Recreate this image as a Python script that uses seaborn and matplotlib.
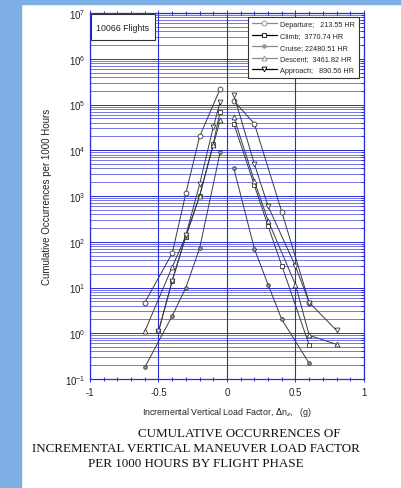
import numpy as np
import pandas as pd
import seaborn as sns
import matplotlib
matplotlib.use('Agg')
import matplotlib.pyplot as plt
from matplotlib.patches import Rectangle
from matplotlib.lines import Line2D
from matplotlib.ticker import LogLocator, MultipleLocator, FixedLocator

# values (load factor in g, occurrences per 1000 hr)
dep_lx = [-0.6, -0.4, -0.3, -0.2, -0.05]
dep_ly = [4.7, 56, 1150, 2.0e4, 2.2e5]
dep_rx = [0.05, 0.2, 0.4, 0.6]
dep_ry = [1.2e5, 3.8e4, 450, 4.7]

climb_lx = [-0.5, -0.4, -0.3, -0.2, -0.1, -0.05]
climb_ly = [1.1, 14, 130, 1000, 1.4e4, 7.0e4]
climb_rx = [0.05, 0.2, 0.3, 0.4, 0.6]
climb_ry = [3.8e4, 1.7e3, 220, 30, 0.55]

cruise_lx = [-0.6, -0.4, -0.3, -0.2, -0.05]
cruise_ly = [0.18, 2.4, 10, 72, 9.0e3]
cruise_rx = [0.05, 0.2, 0.3, 0.4, 0.6]
cruise_ry = [4.0e3, 70, 11.5, 2.0, 0.22]

desc_lx = [-0.6, -0.4, -0.3, -0.2, -0.1, -0.05]
desc_ly = [1.1, 28, 135, 1000, 1.3e4, 4.5e4]
desc_rx = [0.05, 0.2, 0.3, 0.5, 0.6, 0.8]
desc_ry = [5.3e4, 2.1e3, 290, 11.5, 0.9, 0.57]

appr_lx = [-0.5, -0.4, -0.3, -0.2, -0.1, -0.05]
appr_ly = [1.1, 14, 140, 1.8e3, 3.2e4, 1.15e5]
appr_rx = [0.05, 0.2, 0.3, 0.5, 0.6, 0.8]
appr_ry = [1.6e5, 5.0e3, 600, 29, 4.7, 1.15]

phases = ['Departure;   213.55 HR', 'Climb;  3770.74 HR', 'Cruise; 22480.51 HR',
          'Descent;  3461.82 HR', 'Approach;   890.56 HR']
markers = ['o', 's', 'o', '^', 'v']
legend_colors = ['#8a8a8a', '#000000', '#8a8a8a', '#8a8a8a', '#000000']

series = [
    (dep_lx, dep_ly, dep_rx, dep_ry),
    (climb_lx, climb_ly, climb_rx, climb_ry),
    (cruise_lx, cruise_ly, cruise_rx, cruise_ry),
    (desc_lx, desc_ly, desc_rx, desc_ry),
    (appr_lx, appr_ly, appr_rx, appr_ry),
]

rows = []
for name, (lx, ly, rx, ry) in zip(phases, series):
    for x, y in zip(lx, ly):
        rows.append((name, 'neg', x, y))
    for x, y in zip(rx, ry):
        rows.append((name, 'pos', x, y))
df = pd.DataFrame(rows, columns=['phase', 'branch', 'dnz', 'occ'])

sns.set_style('white')
plt.rcParams['font.family'] = ['Liberation Sans', 'DejaVu Sans']

fig = plt.figure(figsize=(4.02, 4.89), dpi=100)
fig.patch.set_facecolor('white')
fig.patches.append(Rectangle((0, 0), 21 / 402, 1, transform=fig.transFigure,
                             color='#7EB0E6', zorder=-1))
fig.patches.append(Rectangle((0, 1 - 5 / 489), 1, 5 / 489, transform=fig.transFigure,
                             color='#7EB0E6', zorder=-1))

ax = fig.add_axes([90 / 402, 1 - 380 / 489, 274 / 402, 366 / 489])
ax.set_yscale('log')

blue = '#2b2bd8'
for name, mk in zip(phases, markers):
    sub = df[df['phase'] == name]
    small = name.startswith('Cruise')
    for br in ['neg', 'pos']:
        part = sub[sub['branch'] == br]
        sns.lineplot(data=part, x='dnz', y='occ', ax=ax, sort=False, estimator=None,
                     color='#3a3a3a', linewidth=0.7, marker=mk,
                     markersize=2.6 if small else 3.5,
                     markerfacecolor='#9a9a9a' if small else 'white',
                     markeredgecolor='#333333', markeredgewidth=0.6,
                     legend=False, zorder=3)

ax.set_xlim(-1, 1)
ax.set_ylim(1e-1, 1e7)

ax.yaxis.set_major_locator(LogLocator(base=10, numticks=12))
ax.yaxis.set_minor_locator(LogLocator(base=10, subs=np.arange(2, 10), numticks=12))
ax.xaxis.set_major_locator(FixedLocator([-1, -0.5, 0, 0.5, 1]))
ax.xaxis.set_minor_locator(MultipleLocator(0.1))
ax.set_xticklabels(['-1', '-0.5', '0', '0.5', '1'])

ax.grid(True, which='major', axis='y', color=blue, linewidth=0.7)
ax.grid(True, which='minor', axis='y', color=blue, linewidth=0.45)
ax.grid(True, which='major', axis='x', color=blue, linewidth=0.8)

ax.tick_params(axis='both', which='both', labelsize=7, colors=blue, labelcolor='#222222',
               top=True, right=True, direction='in', length=4, width=0.7)
ax.tick_params(axis='both', which='minor', length=2.5)
ax.tick_params(axis='x', which='both', bottom=True, direction='inout')
for sp in ax.spines.values():
    sp.set_color(blue)
    sp.set_linewidth(0.9)

ax.set_xlabel('Incremental Vertical Load Factor, $\\Delta$n$_z$,   (g)', fontsize=6.4,
              color='#222222', labelpad=6)
ax.set_ylabel('Cumulative Occurrences per 1000 Hours', fontsize=7, color='#222222',
              labelpad=9)

# flights box
ax.add_patch(Rectangle((0.004, 0.926), 0.233, 0.071, transform=ax.transAxes,
                       facecolor='white', edgecolor='#333333', linewidth=0.8, zorder=5))
ax.text(0.12, 0.9615, '10066 Flights', transform=ax.transAxes, fontsize=6.3,
        va='center', ha='center', color='#222222', zorder=6)

handles = [Line2D([0], [0], color=c, marker=m, linewidth=0.9,
                  markersize=2.5 if i == 2 else 3.5,
                  markerfacecolor='#9a9a9a' if i == 2 else 'white',
                  markeredgecolor=c, markeredgewidth=0.6)
           for i, (c, m) in enumerate(zip(legend_colors, markers))]
leg = ax.legend(handles, phases, loc='upper right', fontsize=5.2, frameon=True,
                fancybox=False, edgecolor='#333333', framealpha=1,
                borderpad=0.55, labelspacing=0.6, handlelength=3.4,
                handletextpad=0.5, bbox_to_anchor=(0.995, 0.999))
leg.get_frame().set_linewidth(0.8)
leg.set_zorder(6)

caption_font = ['Liberation Serif', 'DejaVu Serif']
fig.text(239 / 402, 1 - 434 / 489, 'CUMULATIVE OCCURRENCES OF', ha='center', va='center',
         fontsize=9.4, family=caption_font, color='#111111')
fig.text(196 / 402, 1 - 449 / 489, 'INCREMENTAL VERTICAL MANEUVER LOAD FACTOR',
         ha='center', va='center', fontsize=9.4, family=caption_font, color='#111111')
fig.text(196 / 402, 1 - 464 / 489, 'PER 1000 HOURS BY FLIGHT PHASE', ha='center',
         va='center', fontsize=9.4, family=caption_font, color='#111111')

fig.savefig('out.png', dpi=100, facecolor=fig.get_facecolor())
